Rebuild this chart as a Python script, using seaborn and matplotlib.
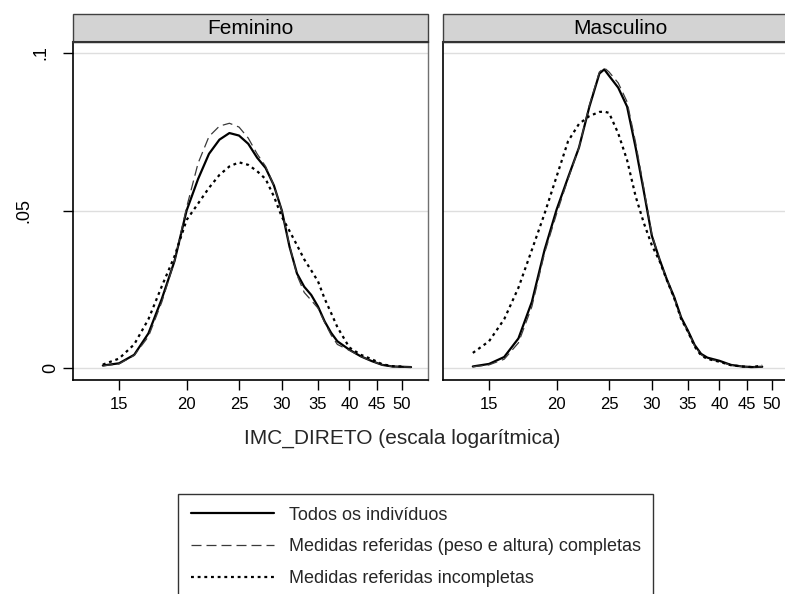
import matplotlib
matplotlib.use("Agg")
import matplotlib.pyplot as plt
import matplotlib.transforms as mtransforms
import seaborn as sns
from matplotlib.patches import Rectangle
from matplotlib.ticker import NullLocator

# ---------------- data ----------------
panels = ["Feminino", "Masculino"]
series_labels = ["Todos os indivíduos",
                 "Medidas referidas (peso e altura) completas",
                 "Medidas referidas incompletas"]

bmi_fem = [14, 15, 16, 17, 18, 19, 20, 21, 22, 23, 24, 25, 26, 27, 28, 29, 30,
           31, 32, 33, 34, 35, 36, 37, 38, 40, 42, 44, 46, 48, 50, 52]
fem_todos = [0.0008, 0.0015, 0.0042, 0.0110, 0.0220, 0.0340, 0.0500, 0.0600,
             0.0680, 0.0725, 0.0746, 0.0738, 0.0712, 0.0668, 0.0635, 0.0580,
             0.0500, 0.0385, 0.0300, 0.0258, 0.0232, 0.0195, 0.0148, 0.0112,
             0.0085, 0.0058, 0.0037, 0.0022, 0.0010, 0.0005, 0.0004, 0.0003]
fem_completas = [0.0007, 0.0013, 0.0040, 0.0100, 0.0210, 0.0340, 0.0510, 0.0650,
                 0.0735, 0.0768, 0.0777, 0.0765, 0.0730, 0.0680, 0.0640, 0.0580,
                 0.0500, 0.0390, 0.0295, 0.0240, 0.0215, 0.0190, 0.0145, 0.0105,
                 0.0075, 0.0056, 0.0037, 0.0022, 0.0010, 0.0005, 0.0004, 0.0003]
fem_incompletas = [0.0011, 0.0030, 0.0075, 0.0155, 0.0260, 0.0355, 0.0470, 0.0522,
                   0.0572, 0.0613, 0.0640, 0.0653, 0.0645, 0.0625, 0.0600, 0.0545,
                   0.0480, 0.0435, 0.0390, 0.0345, 0.0310, 0.0275, 0.0220, 0.0175,
                   0.0130, 0.0065, 0.0042, 0.0028, 0.0012, 0.0006, 0.0005]
bmi_fem_inc = bmi_fem[:31]

bmi_masc = [14, 15, 16, 17, 18, 19, 20, 21, 22, 23, 24, 24.5, 25, 26, 27, 28, 29,
            30, 31, 32, 33, 34, 35, 36, 37, 38, 40, 42, 44, 46, 48]
masc_todos = [0.0005, 0.0013, 0.0035, 0.0094, 0.0210, 0.0375, 0.0503, 0.0605,
              0.0700, 0.0830, 0.0935, 0.0948, 0.0928, 0.0890, 0.0830, 0.0700,
              0.0560, 0.0420, 0.0345, 0.0280, 0.0225, 0.0160, 0.0118, 0.0073,
              0.0045, 0.0033, 0.0023, 0.0010, 0.0005, 0.0003, 0.0004]
masc_completas = [0.0004, 0.0010, 0.0028, 0.0080, 0.0195, 0.0365, 0.0490, 0.0600,
                  0.0700, 0.0835, 0.0940, 0.0953, 0.0940, 0.0905, 0.0845, 0.0715,
                  0.0570, 0.0425, 0.0345, 0.0280, 0.0222, 0.0158, 0.0115, 0.0070,
                  0.0042, 0.0030, 0.0020, 0.0009, 0.0005, 0.0003, 0.0004]
masc_incompletas = [0.0048, 0.0085, 0.0155, 0.0255, 0.0375, 0.0490, 0.0608, 0.0720,
                    0.0775, 0.0800, 0.0813, 0.0814, 0.0810, 0.0745, 0.0660, 0.0545,
                    0.0460, 0.0390, 0.0340, 0.0278, 0.0222, 0.0155, 0.0115, 0.0068,
                    0.0040, 0.0029, 0.0020, 0.0009, 0.0005, 0.0003, 0.0008]

x_ticks = [15, 20, 25, 30, 35, 40, 45, 50]
y_ticks = [0, 0.05, 0.1]
y_tick_labels = ["0", ".05", ".1"]
x_title = "IMC_DIRETO (escala logarítmica)"

# ---------------- styling ----------------
sns.set_theme(style="white")
plt.rcParams["font.family"] = ["Liberation Sans", "DejaVu Sans"]

W, H = 785, 594
fig = plt.figure(figsize=(W / 100, H / 100), dpi=100)

ax_bottom = 380
ax_top = 42
ax_h = ax_bottom - ax_top
ax_w = 355
axL = fig.add_axes([73 / W, 1 - ax_bottom / H, ax_w / W, ax_h / H])
axR = fig.add_axes([443 / W, 1 - ax_bottom / H, ax_w / W, ax_h / H])

styles = [
    dict(color="black", lw=1.6, linestyle="-"),
    dict(color="#3a3a3a", lw=0.9, linestyle=(0, (8, 4))),
    dict(color="black", lw=1.6, linestyle=(0, (1.3, 1.7))),
]

panel_data = [
    [(bmi_fem, fem_todos), (bmi_fem, fem_completas), (bmi_fem_inc, fem_incompletas)],
    [(bmi_masc, masc_todos), (bmi_masc, masc_completas), (bmi_masc, masc_incompletas)],
]

for ax, title, data in zip([axL, axR], panels, panel_data):
    ax.set_xscale("log")
    for (xs, ys), st, lab in zip(data, styles, series_labels):
        sns.lineplot(x=xs, y=ys, ax=ax, label=lab, **st)
    if ax.get_legend() is not None:
        ax.get_legend().remove()
    ax.set_xlim(12.33, 55.9)
    ax.set_ylim(-0.0038, 0.1035)
    ax.set_xticks(x_ticks)
    ax.set_xticklabels([str(t) for t in x_ticks])
    ax.xaxis.set_minor_locator(NullLocator())
    ax.set_yticks(y_ticks)
    ax.grid(axis="y", color="#dedede", lw=1.0)
    ax.grid(axis="x", visible=False)
    ax.set_axisbelow(True)
    ax.set_xlabel("")
    ax.set_ylabel("")
    ax.tick_params(axis="x", bottom=True, length=7, width=1, color="black",
                   pad=5, labelsize=12, labelcolor="black")
    # strip
    strip_h = 28 / ax_h
    ax.add_patch(Rectangle((0, 1), 1, strip_h, transform=ax.transAxes,
                           facecolor="#d3d3d3", edgecolor="#404040", lw=1.0,
                           clip_on=False, zorder=3))
    ax.text(0.5, 1 + strip_h / 2, title, transform=ax.transAxes, ha="center",
            va="center", fontsize=15, color="black", zorder=4)
    for s in ["left", "bottom"]:
        ax.spines[s].set_color("black")
        ax.spines[s].set_linewidth(1.2)
    ax.spines["top"].set_color("#333333")
    ax.spines["top"].set_linewidth(1.5)
    ax.spines["top"].set_zorder(5)
    ax.spines["right"].set_color("#707070")
    ax.spines["right"].set_linewidth(1.0)

# y tick marks on the left panel; labels placed as in the reference (staggered)
axL.tick_params(axis="y", left=True, length=7, width=1, color="black",
                labelleft=False)
axR.tick_params(axis="y", left=False, labelleft=False)
ylab_trans = mtransforms.blended_transform_factory(axL.transAxes, axL.transData)
ylab_x_px = [51, 24, 41]
for yv, lab, xp in zip(y_ticks, y_tick_labels, ylab_x_px):
    axL.text((xp - 73) / ax_w, yv, lab, transform=ylab_trans, rotation=90,
             ha="center", va="center", fontsize=13, color="black", clip_on=False)

fig.text(402 / W, 1 - 438 / H, x_title, ha="center", va="center", fontsize=15)

handles, labels = axL.get_legend_handles_labels()
leg = fig.legend(handles, labels, loc="upper left",
                 bbox_to_anchor=(178 / W, 1 - 494 / H), bbox_transform=fig.transFigure,
                 frameon=True, fancybox=False, shadow=False, fontsize=13,
                 handlelength=4.6, handletextpad=0.83, labelspacing=0.82,
                 borderpad=0.7, borderaxespad=0)
leg.get_frame().set_edgecolor("black")
leg.get_frame().set_linewidth(1.0)
leg.get_frame().set_facecolor("white")

fig.savefig("out.png", dpi=100)
